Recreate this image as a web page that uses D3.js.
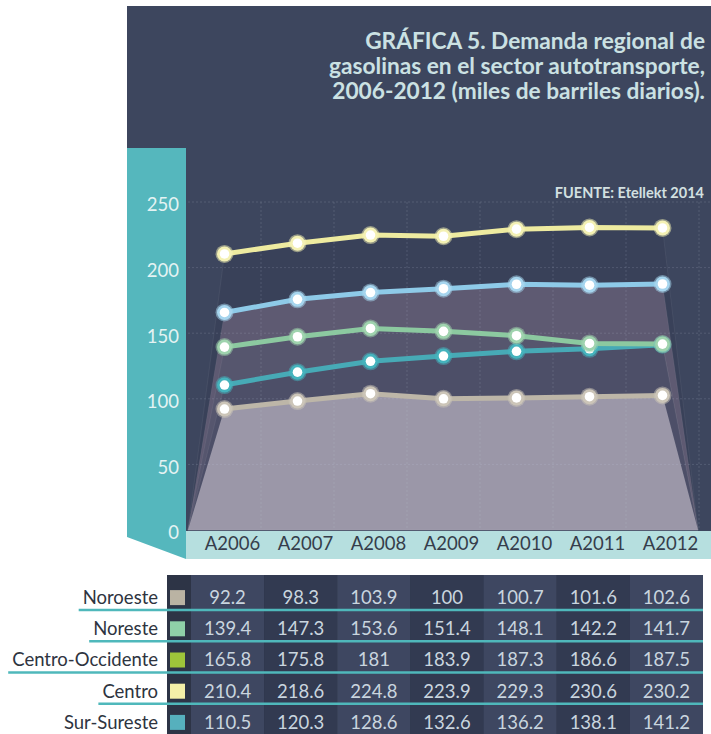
<!DOCTYPE html>
<html><head><meta charset="utf-8">
<script src="https://cdn.jsdelivr.net/npm/d3@7"></script>
<style>
html,body{margin:0;padding:0;background:#fff;}
svg{display:block;}
text{font-family:Lato,"Open Sans",sans-serif;}
</style></head>
<body>
<svg id="c" width="711" height="734"></svg>
<script>
const years = ["A2006","A2007","A2008","A2009","A2010","A2011","A2012"];
const regions = ["Noroeste","Noreste","Centro-Occidente","Centro","Sur-Sureste"];
const noroeste = [92.2, 98.3, 103.9, 100, 100.7, 101.6, 102.6];
const noreste = [139.4, 147.3, 153.6, 151.4, 148.1, 142.2, 141.7];
const centroOccidente = [165.8, 175.8, 181, 183.9, 187.3, 186.6, 187.5];
const centro = [210.4, 218.6, 224.8, 223.9, 229.3, 230.6, 230.2];
const surSureste = [110.5, 120.3, 128.6, 132.6, 136.2, 138.1, 141.2];
const yTicks = [0, 50, 100, 150, 200, 250];
const titleLines = ["GRÁFICA 5. Demanda regional de","gasolinas en el sector autotransporte,","2006-2012 (miles de barriles diarios)."];
const source = "FUENTE: Etellekt 2014";

const seriesValues = {"Noroeste":noroeste,"Noreste":noreste,"Centro-Occidente":centroOccidente,"Centro":centro,"Sur-Sureste":surSureste};
const lineColor = {"Noroeste":"#bdb6a8","Noreste":"#8cc9a0","Centro-Occidente":"#8ecae8","Centro":"#eeeba0","Sur-Sureste":"#47aab6"};
const ringColor = {"Noroeste":"#ccc5b8","Noreste":"#9fd3ae","Centro-Occidente":"#a6d5ee","Centro":"#f4f1b4","Sur-Sureste":"#45b3bd"};
const areaColor = {"Centro":"#394159","Centro-Occidente":"#5e5a72","Noreste":"#56566e","Sur-Sureste":"#4d4f68","Noroeste":"#9b97a8"};
const swatchColor = {"Noroeste":"#bab3a3","Noreste":"#8fd0a8","Centro-Occidente":"#9dc43a","Centro":"#f4f0a8","Sur-Sureste":"#56b0bd"};

const svg = d3.select("#c");

// panel
svg.append("rect").attr("x",127).attr("y",6).attr("width",584).attr("height",525).attr("fill","#3d465e");

const x = d3.scaleBand().domain(years).range([188, 699]);
const y = d3.scaleLinear().domain([0, 250]).range([530, 202]);

// title
const title = svg.append("text").attr("text-anchor","end").attr("fill","#cbe1e3")
  .style("font-size","22.7px").style("font-weight","700");
titleLines.forEach((t,i)=>title.append("tspan").attr("x",705).attr("y",49+i*25).text(t));
svg.append("text").attr("x",704).attr("y",198).attr("text-anchor","end").attr("fill","#d3e0e1")
  .style("font-size","14.5px").style("font-weight","700").text(source);

// areas (top to bottom)
const areaOrder = ["Centro","Centro-Occidente","Noreste","Sur-Sureste","Noroeste"];
areaOrder.forEach(r=>{
  const vals = seriesValues[r];
  const pts = [[188, y(0)]].concat(vals.map((v,i)=>[x(years[i])+x.bandwidth()/2, y(v)])).concat([[698, y(0)]]);
  svg.append("path").attr("d", d3.line()(pts)+"Z").attr("fill", areaColor[r])
     .attr("stroke","rgba(255,255,255,0.06)").attr("stroke-width",1);
});

// gridlines
const grid = svg.append("g").attr("stroke","rgba(200,210,230,0.16)").attr("stroke-dasharray","2,2").attr("stroke-width",1);
yTicks.filter(t=>t>0).forEach(t=>grid.append("line").attr("x1",188).attr("x2",711).attr("y1",y(t)).attr("y2",y(t)));
years.forEach(yr=>grid.append("line").attr("x1",x(yr)+x.step()).attr("x2",x(yr)+x.step()).attr("y1",y(250)).attr("y2",y(0)));

// teal y strip
svg.append("path").attr("d","M127,148L186,148L186,559L127,537Z").attr("fill","#55b7bd");
// x strip
svg.append("rect").attr("x",186).attr("y",531).attr("width",525).attr("height",28).attr("fill","#b6dfdf");

// y axis
const yAxis = svg.append("g").attr("transform","translate(179,3)")
  .call(d3.axisLeft(y).tickValues(yTicks).tickSize(0).tickPadding(0));
yAxis.select(".domain").remove();
yAxis.selectAll("text").attr("fill","#e4f3f3").style("font-size","18.5px").style("font-family","Lato,sans-serif");

// x axis
const xAxis = svg.append("g").attr("transform","translate(8,531)")
  .call(d3.axisBottom(x).tickSize(0).tickPadding(6));
xAxis.select(".domain").remove();
xAxis.selectAll("text").attr("fill","#353d4b").style("font-size","18.5px").style("font-family","Lato,sans-serif");

// lines
const lineOrder = ["Noroeste","Sur-Sureste","Noreste","Centro-Occidente","Centro"];
const lineGen = d3.line().x((d,i)=>x(years[i])+x.bandwidth()/2).y(d=>y(d));
lineOrder.forEach(r=>{
  const vals = seriesValues[r];
  svg.append("path").attr("d", lineGen(vals)).attr("fill","none").attr("stroke",lineColor[r]).attr("stroke-width",5);
});
lineOrder.forEach(r=>{
  const vals = seriesValues[r];
  const g = svg.append("g");
  vals.forEach((v,i)=>{
    const cx = x(years[i])+x.bandwidth()/2, cy = y(v);
    g.append("circle").attr("cx",cx).attr("cy",cy).attr("r",9).attr("fill",ringColor[r]).attr("opacity",0.5);
    g.append("circle").attr("cx",cx).attr("cy",cy).attr("r",7.5).attr("fill",ringColor[r]);
    g.append("circle").attr("cx",cx).attr("cy",cy).attr("r",4.8).attr("fill","#ffffff");
  });
});

// table
const tx = d3.scaleBand().domain(years).range([191, 703]);
const ty = d3.scaleBand().domain(regions).range([582, 738]);
svg.append("rect").attr("x",167).attr("y",575).attr("width",536).attr("height",159).attr("fill","#2d3446");
years.forEach((yr,i)=>{
  svg.append("rect").attr("x",tx(yr)).attr("y",575).attr("width",tx.bandwidth()).attr("height",159)
    .attr("fill", i%2===0 ? "#3e4761" : "#323a51");
});
regions.forEach((r,ri)=>{
  const cy = ty(r)+ty.bandwidth()/2;
  const lab = svg.append("text").attr("x",158).attr("y",cy).attr("dy","0.35em").attr("text-anchor","end")
    .attr("fill","#2e3440").style("font-size","18.5px").text(r);
  const w = lab.node().getComputedTextLength();
  if (ri < regions.length-1) {
    svg.append("line").attr("x1",158-w-4).attr("x2",703).attr("y1",cy+12.5).attr("y2",cy+12.5)
      .attr("stroke","#4fb8bb").attr("stroke-width",2.5);
  }
  svg.append("rect").attr("x",170).attr("y",cy-7.5).attr("width",15).attr("height",15).attr("fill",swatchColor[r]);
  seriesValues[r].forEach((v,i)=>{
    svg.append("text").attr("x",tx(years[i])+tx.bandwidth()/2).attr("y",cy).attr("dy","0.35em")
      .attr("text-anchor","middle").attr("fill","#c9d5df").style("font-size","18.5px").text(String(v));
  });
});
</script>
</body></html>
